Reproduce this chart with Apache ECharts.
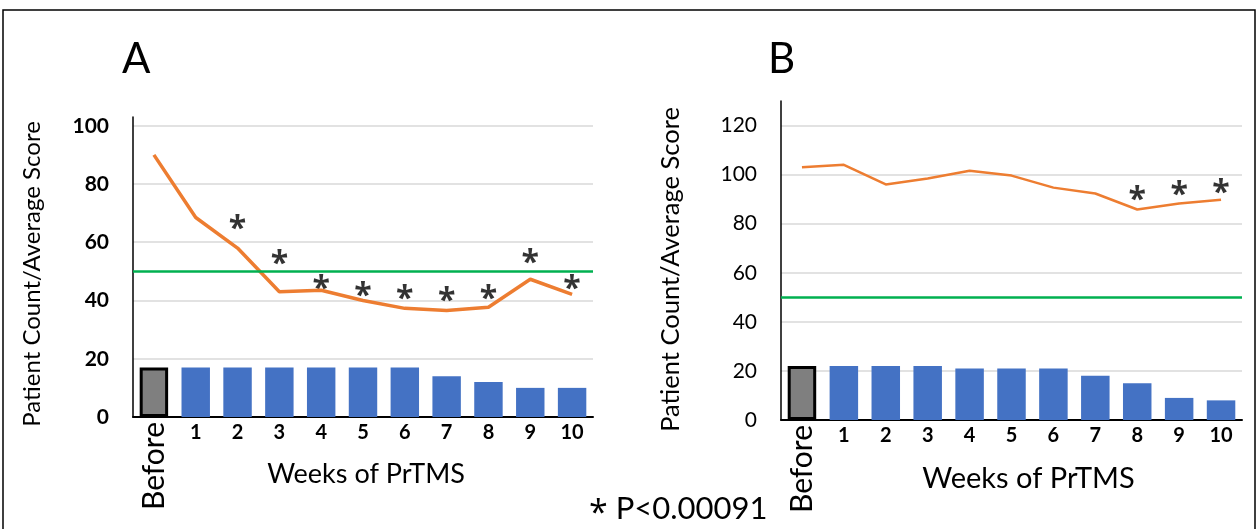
<!DOCTYPE html>
<html><head><meta charset="utf-8">
<script src="https://cdn.jsdelivr.net/npm/echarts@6/dist/echarts.min.js"></script>
<style>html,body{margin:0;padding:0;background:#fff}#c{width:1258px;height:529px}</style>
</head><body><div id="c"></div>
<script>
const categories = ['Before','1','2','3','4','5','6','7','8','9','10'];
const yTicksA = [0,20,40,60,80,100];
const yTicksB = [0,20,40,60,80,100,120];
const countsA = [17,17,17,17,17,17,17,14,12,10,10];
const scoresA = [90,68.5,58,43,43.5,40,37.3,36.6,37.7,47.3,42.1];
const starsA = [null,null,66.8,54.5,46.2,43.8,42.5,41.8,42.5,54.8,46.2];
const countsB = [22,22,22,22,21,21,21,18,15,9,8];
const scoresB = [103,104,96,98.4,101.6,99.6,94.7,92.3,85.8,88.2,89.8];
const starsB = [null,null,null,null,null,null,null,null,92.3,94.3,95.1];
const thresholdA = 50, thresholdB = 50;
const panelLabels = ['A','B'];
const pNoteStar = '*';
const pNoteText = ' P<0.00091';
const xName = 'Weeks of PrTMS';
const yName = 'Patient Count/Average Score';

const FONT = 'Lato';
const chart = echarts.init(document.getElementById('c'));

function barData(arr){
  return arr.map((v,i)=> i===0 ? {value:v, itemStyle:{color:'#7f7f7f', borderColor:'#000', borderWidth:3}} : v);
}
function xAxes(gi, nameSize, shift){
  return [
    {type:'category', gridIndex:gi, data:categories,
     axisLine:{lineStyle:{color:'#000', width:2}}, axisTick:{show:false},
     axisLabel:{interval:0, margin:6, color:'#000', fontFamily:FONT, fontSize:20, fontWeight:'bold',
       formatter:v=> v==='Before' ? '' : v},
     name:xName, nameLocation:'middle', nameGap:44,
     nameTextStyle:{color:'#000', fontFamily:FONT, fontSize:nameSize, padding:[0,0,0,shift]}},
    {type:'category', gridIndex:gi, data:categories, position:'bottom',
     axisLine:{show:false}, axisTick:{show:false}, splitLine:{show:false},
     axisLabel:{interval:0, rotate:90, margin:5, color:'#000', fontFamily:FONT, fontSize:30,
       formatter:v=> v==='Before' ? v : ''}}
  ];
}
function yAxis(gi, max, ticks, bold, gap, size, shift){
  return {type:'value', gridIndex:gi, min:ticks[0], max:max, interval:ticks[1]-ticks[0],
    axisLine:{show:true, lineStyle:{color:'#000', width:1.5}}, axisTick:{show:false},
    splitLine:{show:true, showMaxLine:false, showMinLine:false, lineStyle:{color:'#d9d9d9', width:1.5}},
    axisLabel:{showMaxLabel:false, margin:24, color:'#000', fontFamily:FONT, fontSize:21, fontWeight: bold?'bold':'normal',
      formatter:v=> ticks.indexOf(v)>=0 ? String(v) : ''},
    name:yName, nameLocation:'middle', nameGap:gap,
    nameTextStyle:{color:'#000', fontFamily:FONT, fontSize:size, padding:[0,shift,0,0]}};
}
function starSeries(xi, yi, data){
  return {type:'scatter', xAxisIndex:xi, yAxisIndex:yi, data:data, symbolSize:1,
    itemStyle:{color:'transparent'}, silent:true,
    label:{show:true, position:'inside', formatter:'*', color:'#000', fontFamily:'Open Sans', fontWeight:'bold', fontSize:32, offset:[0,7]}};
}

const option = {
  animation:false,
  textStyle:{fontFamily:FONT},
  graphic:[{type:'rect', shape:{x:3, y:10, width:1252, height:530}, style:{fill:'none', stroke:'#000', lineWidth:1.5}}],
  title:[
    {text:panelLabels[0], left:117, top:33, textStyle:{fontFamily:FONT, fontSize:42, fontWeight:'normal', color:'#000'}},
    {text:panelLabels[1], left:763, top:33, textStyle:{fontFamily:FONT, fontSize:42, fontWeight:'normal', color:'#000'}},
    {text:'{s|' + pNoteStar + '}' + pNoteText, left:584, top:482,
     textStyle:{fontFamily:FONT, fontSize:31, fontWeight:'normal', color:'#000',
       rich:{s:{fontFamily:'Open Sans', fontSize:34, color:'#000', padding:[10,0,0,0]}}}}
  ],
  grid:[
    {left:133, right:665, top:117, bottom:112},
    {left:781, right:16, top:101, bottom:109}
  ],
  xAxis:[...xAxes(0,27,6), ...xAxes(1,29,34)],
  yAxis:[yAxis(0,103,yTicksA,true,89,24,14), yAxis(1,130,yTicksB,false,97,25.5,18)],
  series:[
    {type:'bar', xAxisIndex:0, yAxisIndex:0, data:barData(countsA), barWidth:'68%', itemStyle:{color:'#4472c4'}},
    {type:'line', xAxisIndex:0, yAxisIndex:0, data:scoresA, symbol:'none', lineStyle:{color:'#ed7d31', width:3.5},
      markLine:{silent:true, symbol:'none', label:{show:false}, lineStyle:{color:'#00b050', width:2.5, type:'solid'}, data:[{yAxis:thresholdA}]}},
    starSeries(0,0,starsA),
    {type:'bar', xAxisIndex:2, yAxisIndex:1, data:barData(countsB), barWidth:'68%', itemStyle:{color:'#4472c4'}},
    {type:'line', xAxisIndex:2, yAxisIndex:1, data:scoresB, symbol:'none', lineStyle:{color:'#ed7d31', width:2.5},
      markLine:{silent:true, symbol:'none', label:{show:false}, lineStyle:{color:'#00b050', width:2.5, type:'solid'}, data:[{yAxis:thresholdB}]}},
    starSeries(2,1,starsB)
  ]
};
chart.setOption(option);
</script></body></html>
